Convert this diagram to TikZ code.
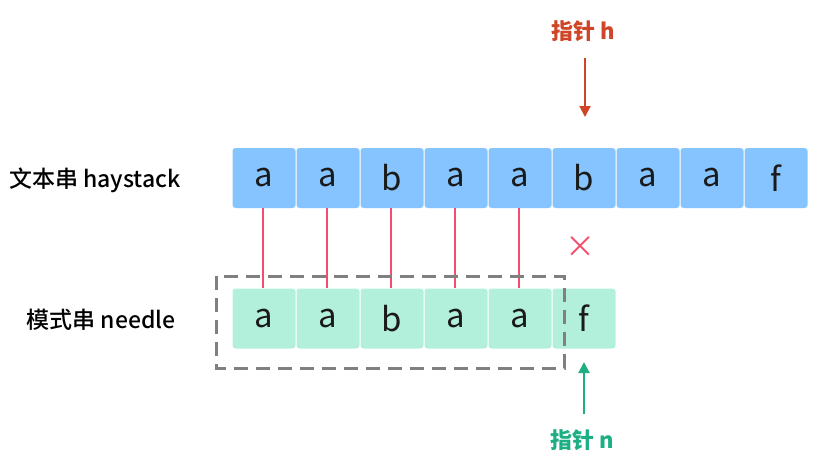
\documentclass[tikz,border=0pt]{standalone}
\usepackage{fontspec}
\setmainfont{Noto Sans CJK SC}
\newfontfamily\medfont{Noto Sans CJK SC Medium}
\usetikzlibrary{arrows.meta}
\definecolor{topfill}{HTML}{85C4FF}
\definecolor{botfill}{HTML}{B3F0DC}
\definecolor{linkpink}{HTML}{F0506E}
\definecolor{hred}{HTML}{CF4527}
\definecolor{ngreen}{HTML}{1EAE84}
\definecolor{dashgray}{HTML}{808080}
\definecolor{txt}{HTML}{1A1A1A}
\tikzset{
  cellbox/.style={minimum width=63pt, minimum height=60pt, inner sep=0pt, rounded corners=3pt, text=txt, font=\fontsize{33}{33}\selectfont},
  topcell/.style={cellbox, fill=topfill},
  botcell/.style={cellbox, fill=botfill},
  link/.style={draw=linkpink, line width=1.8pt},
  rowlabel/.style={font=\fontsize{23}{23}\selectfont\medfont, text=black, inner sep=0pt},
  ptrlabel/.style={font=\fontsize{22}{22}\selectfont\bfseries, inner sep=0pt},
  ptrarrow/.style={line width=2pt, -{Triangle[width=11pt,length=11pt]}},
}
\begin{document}
\begin{tikzpicture}[x=1pt,y=-1pt]
\useasboundingbox (0,0) rectangle (821,471);
% top row
\foreach \c [count=\i from 0] in {a,a,b,a,a,b,a,a,f}{
  \node[topcell] (t\i) at ({264+64*\i},178) {\c};
}
% bottom row
\foreach \c [count=\i from 0] in {a,a,b,a,a,f}{
  \node[botcell] (b\i) at ({264+64*\i},318.5) {\c};
}
% labels
\node[rowlabel] (hay) at (95,180) {文本串 haystack};
\node[rowlabel] (nee) at (101,320) {模式串 needle};
% links
\foreach \i in {0,...,4}{
  \draw[link] ([xshift=-1pt]t\i.south) -- ([xshift=-1pt]b\i.north);
}
% mismatch cross
\node[text=linkpink, font=\fontsize{30}{30}\selectfont, inner sep=0pt] (cross) at (580,247) {×};
% dashed box
\draw[dashgray, line width=3pt, dash pattern=on 14pt off 8pt] (216,276) rectangle (564,368);
% pointer h
\node[ptrlabel, text=hred] (ph) at (583,31) {指针 h};
\coordinate (phs) at (585,58);
\coordinate (phe) at (585,117);
\draw[ptrarrow, draw=hred, fill=hred] (phs) -- (phe);
% pointer n
\node[ptrlabel, text=ngreen] (pn) at (582,440) {指针 n};
\coordinate (pns) at (584,414);
\coordinate (pne) at (584,362);
\draw[ptrarrow, draw=ngreen, fill=ngreen] (pns) -- (pne);
\end{tikzpicture}
\end{document}
